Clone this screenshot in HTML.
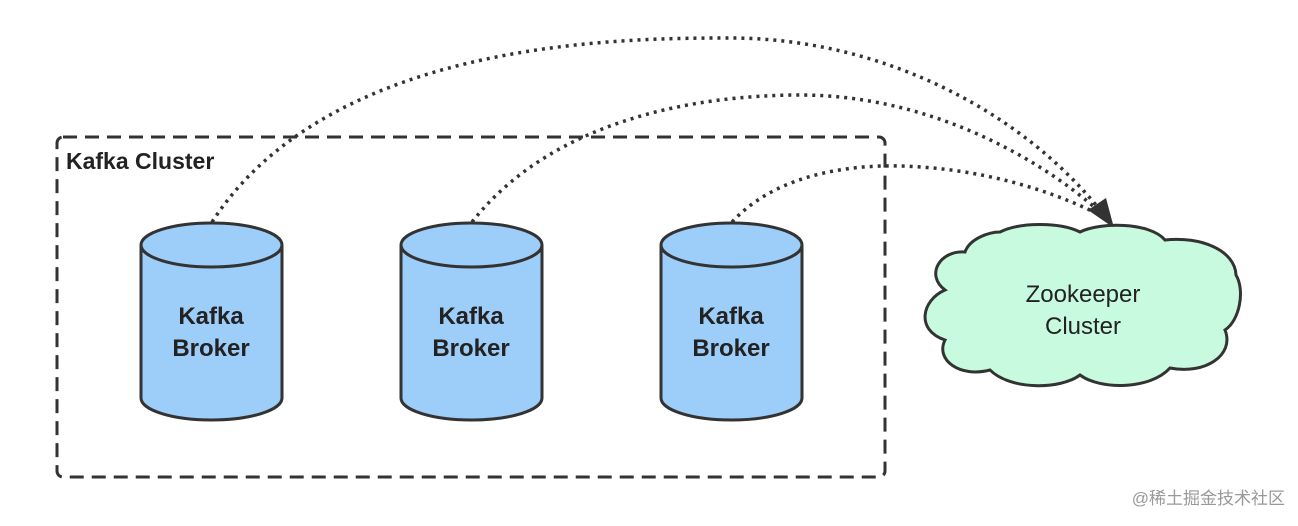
<!DOCTYPE html>
<html><head><meta charset="utf-8"><style>
body{margin:0;background:#fff;width:1298px;height:526px;overflow:hidden}
svg{display:block}
text{font-family:"Liberation Sans",sans-serif}
</style></head><body>
<svg width="1298" height="526" viewBox="0 0 1298 526">
<rect x="57" y="137" width="828" height="340" rx="6" fill="none" stroke="#333" stroke-width="3" stroke-dasharray="14,8"/>
<text x="66" y="169" font-size="23" fill="#222" font-weight="bold">Kafka Cluster</text>

<g stroke="#333" stroke-width="3" fill="#9dcdf9">
<path d="M141 245 V398 A70.5 22 0 0 0 282 398 V245"/>
<ellipse cx="211.5" cy="245" rx="70.5" ry="22"/>
<path d="M401 245 V398 A70.5 22 0 0 0 542 398 V245"/>
<ellipse cx="471.5" cy="245" rx="70.5" ry="22"/>
<path d="M661 245 V398 A70.5 22 0 0 0 802 398 V245"/>
<ellipse cx="731.5" cy="245" rx="70.5" ry="22"/>
</g>
<g font-size="24" fill="#222" text-anchor="middle" font-weight="bold">
<text x="211" y="324">Kafka</text><text x="211" y="356">Broker</text>
<text x="471" y="324">Kafka</text><text x="471" y="356">Broker</text>
<text x="731" y="324">Kafka</text><text x="731" y="356">Broker</text>
</g>

<g fill="none" stroke="#333" stroke-width="3.5" stroke-dasharray="3,5">
<path d="M212 222 C330 40 620 38 730 38 C880 38 1020 110 1100 210"/>
<path d="M472 222 C560 110 720 95 800 95 C920 95 1030 150 1100 212"/>
<path d="M732 222 C780 170 860 165 900 166 C980 168 1050 190 1098 214"/>
</g>
<polygon points="1088,210 1106,198 1114,228" fill="#333"/>

<path d="M1000 232 C1020 222 1060 222 1080 232 C1100 222 1150 222 1165 240 C1200 236 1235 250 1236 275 C1245 290 1240 320 1225 330 C1235 355 1205 375 1170 368 C1150 390 1100 390 1080 375 C1060 390 1010 390 990 370 C960 378 935 360 945 340 C915 330 922 300 945 290 C925 275 940 250 965 252 C970 238 990 232 1000 232 Z" fill="#c8fadf" stroke="#333" stroke-width="3"/>
<g font-size="24" fill="#222" text-anchor="middle">
<text x="1083" y="302">Zookeeper</text><text x="1083" y="334">Cluster</text>
</g>
<text x="1285" y="504" font-size="17" fill="#999" text-anchor="end" style='font-family:"Liberation Sans","Noto Sans CJK SC",sans-serif'>@稀土掘金技术社区</text>
</svg>
</body></html>
